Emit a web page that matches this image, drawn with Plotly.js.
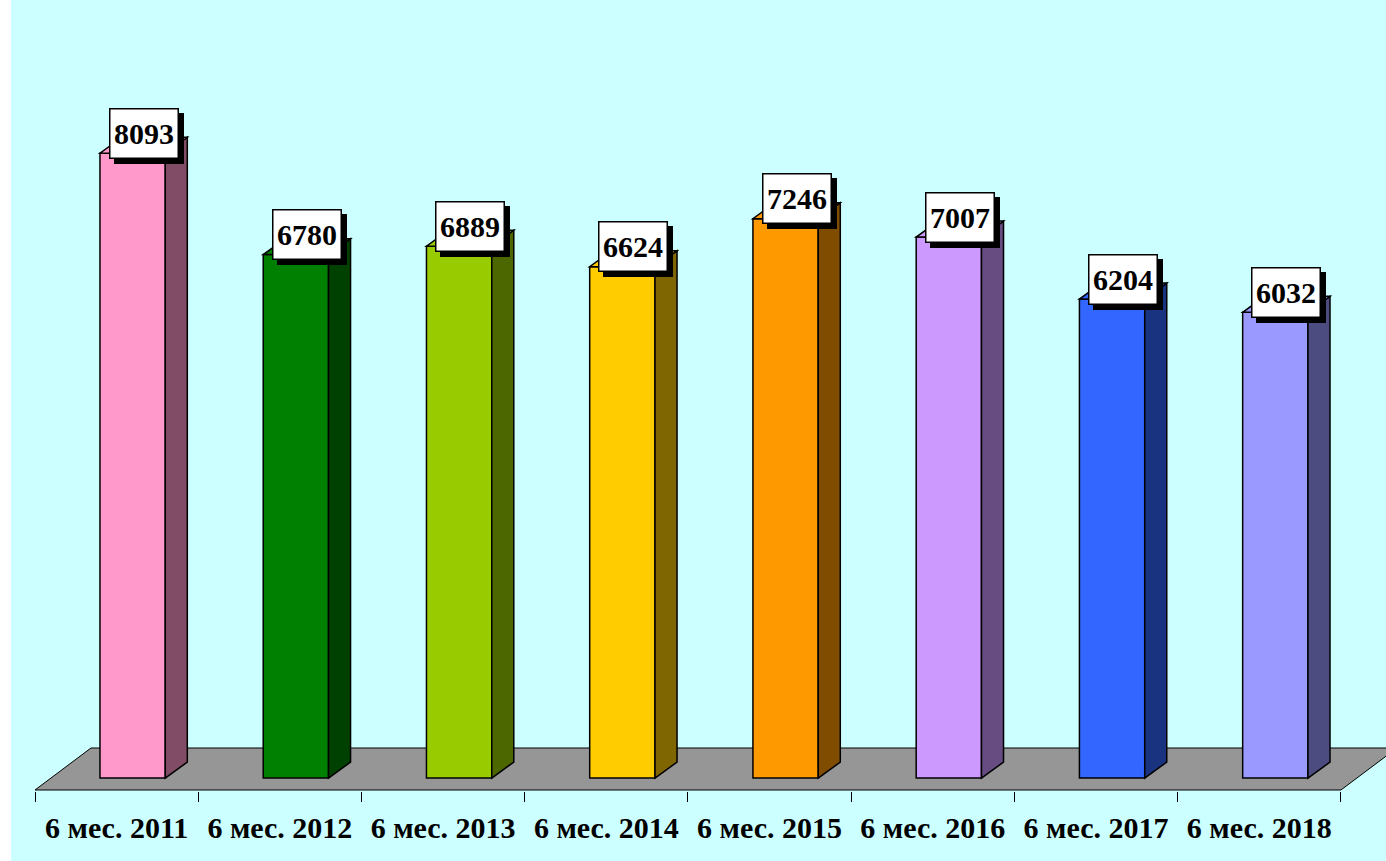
<!DOCTYPE html>
<html>
<head>
<meta charset="utf-8">
<script src="https://cdn.plot.ly/plotly-3.0.1.min.js"></script>
<style>
  body { margin: 0; background: #ffffff; }
  #chart { width: 1386px; height: 861px; }
</style>
</head>
<body>
<div id="chart"></div>
<script>
// data
let categories = ['6 мес. 2011', '6 мес. 2012', '6 мес. 2013', '6 мес. 2014',
                  '6 мес. 2015', '6 мес. 2016', '6 мес. 2017', '6 мес. 2018'];
let values = [8093, 6780, 6889, 6624, 7246, 7007, 6204, 6032];
let frontColors = ['#FF99CC', '#008000', '#99CC00', '#FFCC00', '#FF9900', '#CC99FF', '#3366FF', '#9999FF'];
let sideColors = ['#804C66', '#004000', '#4C6600', '#806600', '#804C00', '#664C80', '#1A3380', '#4C4C80'];

// fake 3d geometry, in axis units
let barOffset = -0.102;   // left edge of front face, relative to category centre
let barWidth = 0.40;
let depthX = 0.135;       // side face depth
let depthY = 207;
let floorFront = -155;
let floorBack = 389;
let floorShiftX = 0.343;

let xs = categories.map((c, i) => i);

let shapes = [];

// cyan panel, leaves a thin white strip on the left
shapes.push({
  type: 'rect', xref: 'paper', yref: 'paper',
  x0: -24 / 1351, x1: 1.05, y0: -0.2, y1: 1.05,
  fillcolor: '#CCFFFF', line: {width: 0}, layer: 'below'
});

// floor
let last = categories.length - 0.5;
shapes.push({
  type: 'path', xref: 'x', yref: 'y', layer: 'below',
  path: 'M -0.5 ' + floorFront + ' L ' + last + ' ' + floorFront +
        ' L ' + (last + floorShiftX) + ' ' + floorBack +
        ' L ' + (-0.5 + floorShiftX) + ' ' + floorBack + ' Z',
  fillcolor: '#969696', line: {color: '#000000', width: 1}
});

// side and top faces
values.forEach(function(v, i) {
  let left = i + barOffset;
  let right = left + barWidth;
  shapes.push({
    type: 'path', xref: 'x', yref: 'y', layer: 'above',
    path: 'M ' + right + ' 0 L ' + (right + depthX) + ' ' + depthY +
          ' L ' + (right + depthX) + ' ' + (v + depthY) +
          ' L ' + right + ' ' + v + ' Z',
    fillcolor: sideColors[i], line: {color: '#000000', width: 1.5}
  });
  shapes.push({
    type: 'path', xref: 'x', yref: 'y', layer: 'above',
    path: 'M ' + left + ' ' + v + ' L ' + right + ' ' + v +
          ' L ' + (right + depthX) + ' ' + (v + depthY) +
          ' L ' + (left + depthX) + ' ' + (v + depthY) + ' Z',
    fillcolor: frontColors[i], line: {color: '#000000', width: 1.5}
  });
});

// value labels with drop shadow
let labelFont = {family: 'Liberation Serif, Times New Roman, serif', size: 30, color: '#000000', weight: 'bold'};
let annotations = [];
values.forEach(function(v, i) {
  let cx = i + barOffset + barWidth / 2 + depthX / 2;
  // shadow box
  annotations.push({
    x: cx, y: v + depthY, xref: 'x', yref: 'y',
    text: '\u00a0', showarrow: false, font: labelFont,
    bgcolor: '#000000', bordercolor: '#000000', borderwidth: 1.5,
    width: 67, height: 48, borderpad: 0, xshift: 5, yshift: -1
  });
  annotations.push({
    x: cx, y: v + depthY, xref: 'x', yref: 'y',
    text: String(v), showarrow: false, font: labelFont,
    bgcolor: '#FFFFFF', bordercolor: '#000000', borderwidth: 1.5,
    width: 67, height: 48, borderpad: 0, yshift: 4
  });
});

let trace = {
  type: 'bar',
  x: xs,
  y: values,
  width: barWidth,
  offset: barOffset,
  marker: {color: frontColors, line: {color: '#000000', width: 1.5}},
  hoverinfo: 'skip'
};

let boundaries = categories.map((c, i) => i - 0.5).concat([categories.length - 0.5]);

let layout = {
  width: 1386,
  height: 861,
  margin: {l: 35, r: 0, t: 0, b: 70},
  paper_bgcolor: '#FFFFFF',
  plot_bgcolor: 'rgba(0,0,0,0)',
  showlegend: false,
  xaxis: {
    range: [-0.5, 7.776],
    tickmode: 'array',
    tickvals: xs,
    ticktext: categories,
    ticks: '',
    ticklabelstandoff: 16,
    tickfont: {family: 'Liberation Serif, Times New Roman, serif', size: 30, color: '#000000', weight: 'bold'},
    showgrid: false,
    zeroline: false,
    showline: false,
    minor: {tickmode: 'array', tickvals: boundaries, ticks: 'outside', ticklen: 10, tickcolor: '#000000', tickwidth: 1, showgrid: false}
  },
  yaxis: {
    range: [-168, 10078],
    visible: false,
    showgrid: false,
    zeroline: false
  },
  shapes: shapes,
  annotations: annotations
};

Plotly.newPlot('chart', [trace], layout, {displayModeBar: false, staticPlot: true});
</script>
</body>
</html>
